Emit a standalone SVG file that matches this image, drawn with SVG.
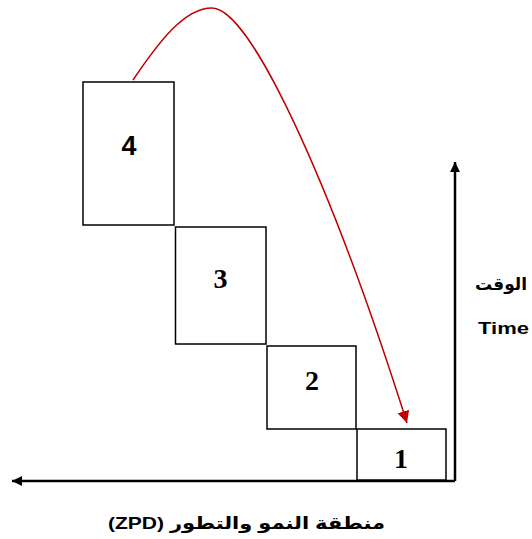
<svg xmlns="http://www.w3.org/2000/svg" width="532" height="539" viewBox="0 0 532 539">
<style>
.box{fill:#fff;stroke:#000;stroke-width:1.5}
.axis{fill:none;stroke:#000;stroke-width:2.5}
.red{fill:none;stroke:#c00000;stroke-width:1.5}
.num{font-family:"Liberation Serif",serif;font-weight:bold;font-size:28px;text-anchor:middle}
.num4{font-family:"Liberation Sans",sans-serif;font-weight:bold;font-size:27px;text-anchor:middle}
.lbl{font-family:"Liberation Sans","DejaVu Sans",sans-serif;font-weight:bold;font-size:17px}
.ar{font-family:"DejaVu Sans",sans-serif;font-weight:bold}
</style>
<defs>
<marker id="ah" viewBox="0 0 10 10" refX="10" refY="5" markerWidth="10" markerHeight="10" markerUnits="userSpaceOnUse" orient="auto">
<path d="M0,0 L10,5 L0,10 Z" fill="#000"/>
</marker>
<marker id="rh" viewBox="0 0 10 10" refX="10" refY="5" markerWidth="12" markerHeight="12" markerUnits="userSpaceOnUse" orient="auto">
<path d="M0,0 L10,5 L0,10 Z" fill="#c00000"/>
</marker>
</defs>
<g id="connectors">
<path class="axis" d="M455,481 L455,162" marker-end="url(#ah)"/>
<path class="axis" d="M455,481 L12,481" marker-end="url(#ah)"/>
<path class="red" d="M133,80 C160,40 185,8 212,8 C250,8 330,180 407,423" marker-end="url(#rh)"/>
</g>
<g id="node4">
<rect class="box" x="83" y="82" width="91" height="143"/>
<text class="num4" x="129" y="155">4</text>
</g>
<g id="node3">
<rect class="box" x="175.5" y="227" width="90.5" height="117"/>
<text class="num" x="220.5" y="288">3</text>
</g>
<g id="node2">
<rect class="box" x="267" y="346" width="89" height="83"/>
<text class="num" x="312" y="390">2</text>
</g>
<g id="node1">
<rect class="box" x="357" y="429" width="89" height="51"/>
<text class="num" x="401" y="468">1</text>
</g>
<g id="labels">
<text class="lbl ar" x="527" y="290" font-size="18" text-anchor="end">الوقت</text>
<text class="lbl" x="478" y="334" textLength="51" lengthAdjust="spacingAndGlyphs">Time</text>
<text class="lbl" x="246.5" y="529" font-size="20" text-anchor="middle" direction="rtl" unicode-bidi="embed" textLength="277" lengthAdjust="spacingAndGlyphs">منطقة النمو والتطور  (ZPD)</text>
</g>
</svg>
